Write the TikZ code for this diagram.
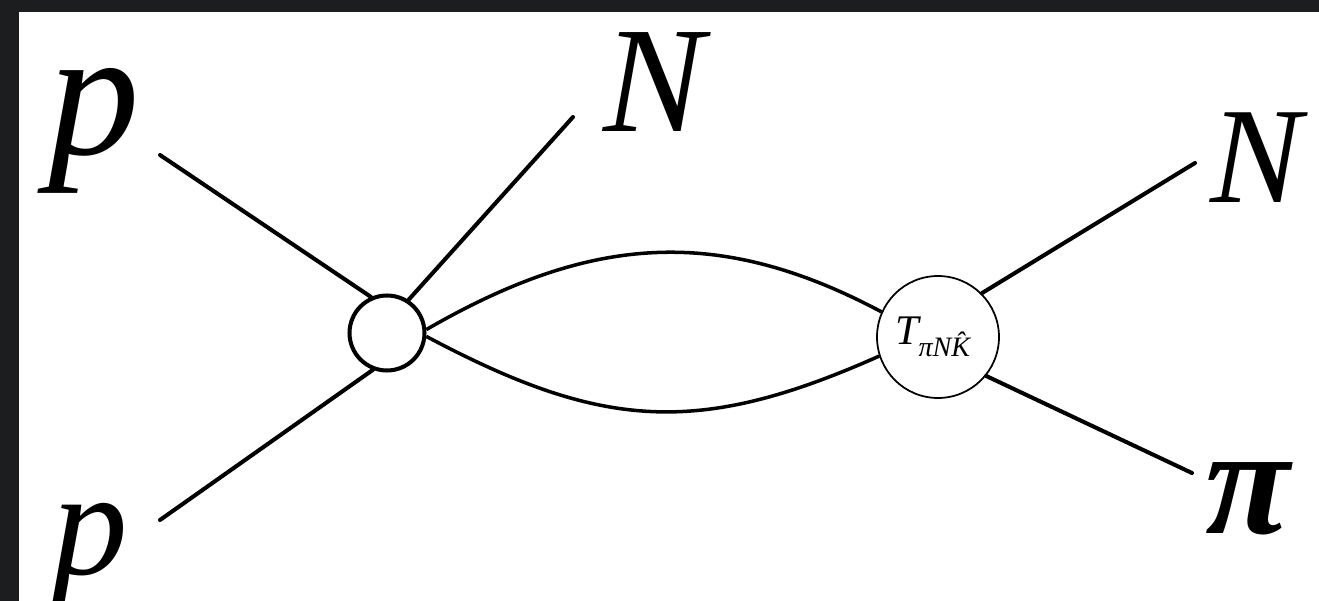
\documentclass[tikz,border=0pt]{standalone}
\usepackage{fontspec}
\setmainfont{Liberation Serif}
\definecolor{photodark}{HTML}{1C1D1F}

\begin{document}
\begin{tikzpicture}[
  x=0.02cm, y=-0.02cm,
  leg/.style={line width=2.3pt, line cap=round},
  bubble/.style={line width=2pt},
  vertex/.style={draw, circle, fill=white, inner sep=0pt},
  particle/.style={inner sep=0pt, anchor=base west, font=\itshape}]
% framed white sheet
\fill[photodark] (0,0) rectangle (1319,601);
\fill[white] (19,12) rectangle (1319,601);
\useasboundingbox (0,0) rectangle (1319,601);

\node[vertex, minimum size=1.5cm, line width=2.3pt] (vleft) at (387,333) {};
\node[vertex, minimum size=2.44cm, line width=1pt] (vright) at (938,337)
  {\fontsize{24}{24}\selectfont\textit{T}\kern-1.5pt\raisebox{-6.5pt}{\fontsize{16}{16}\selectfont\textit{πNK\char"0302}}};

\node[particle, font=\fontsize{104}{104}\selectfont\itshape] (ptop) at (48,155) {p};
\node[particle, font=\fontsize{86}{86}\selectfont\itshape] (pbot) at (52,574) {p};
\node[particle, font=\fontsize{86}{86}\selectfont\itshape] (ntop) at (603,132) {N};
\node[particle, font=\fontsize{78}{78}\selectfont\itshape] (nout) at (1210,203) {N};
\node[particle, font=\fontsize{88}{88}\selectfont\bfseries\itshape] (piout) at (1205,533) {π};

\coordinate (ptopend) at (160,155);
\coordinate (pbotend) at (160,520);
\coordinate (ntopend) at (573,117);
\coordinate (noutend) at (1195,163);
\coordinate (piend) at (1192,473);

\draw[leg] (ptopend) -- (vleft.114);
\draw[leg] (ntopend) -- (vleft.57);
\draw[leg] (pbotend) -- (vleft.249);
\draw[bubble] (vleft.5) to[out=30, in=152, looseness=1.05] (vright.156);
\draw[bubble] (vleft.-5) to[out=-28, in=204, looseness=1.12] (vright.198);
\draw[leg] (vright.45) -- (noutend);
\draw[leg] (vright.321) -- (piend);
\end{tikzpicture}
\end{document}
